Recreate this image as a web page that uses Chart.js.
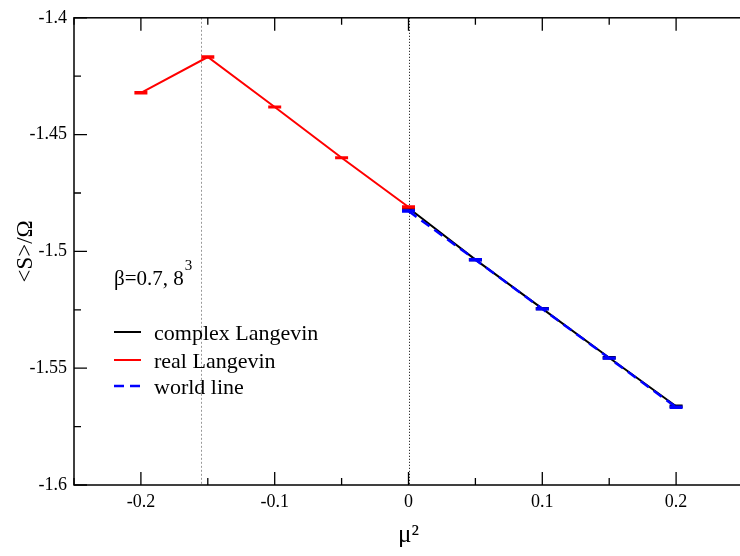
<!DOCTYPE html>
<html>
<head>
<meta charset="utf-8">
<script src="https://cdn.jsdelivr.net/npm/chart.js@4/dist/chart.umd.min.js"></script>
<style>
html,body{margin:0;padding:0;background:#fff;overflow:hidden;width:740px;height:556px;}
#wrap{position:absolute;left:0;top:0;width:760px;height:556px;}
</style>
</head>
<body>
<div id="wrap"><canvas id="c" width="760" height="556"></canvas></div>
<script>
// ---- data ----
const xReal    = [-0.2, -0.15, -0.1, -0.05, 0];
const yReal    = [-1.4321, -1.4168, -1.4382, -1.4599, -1.4810];
const errReal  = [0.0003, 0.0003, 0.0002, 0.0002, 0.0003];

const xComplex   = [0, 0.05, 0.1, 0.15, 0.2];
const yComplex   = [-1.4814, -1.5035, -1.5245, -1.5455, -1.5663];
const errComplex = [0.0003, 0.0003, 0.0003, 0.0003, 0.0003];

const xWorld   = [0, 0.05, 0.1, 0.15, 0.2];
const yWorld   = [-1.4827, -1.5036, -1.5246, -1.5457, -1.5667];
const errWorld = [0.0003, 0.0003, 0.0003, 0.0003, 0.0003];

const xTicks = [-0.2, -0.1, 0, 0.1, 0.2];
const xTickLabels = ['-0.2', '-0.1', '0', '0.1', '0.2'];
const xMinorTicks = [-0.25, -0.15, -0.05, 0.05, 0.15, 0.25];
const yTicks = [-1.4, -1.45, -1.5, -1.55, -1.6];
const yTickLabels = ['-1.4', '-1.45', '-1.5', '-1.55', '-1.6'];
const yMinorTicks = [-1.425, -1.475, -1.525, -1.575];
const vLines = [-0.155, 0];
const annotationText = 'β=0.7, 8';
const annotationSup = '3';

const SERIF = '"Liberation Serif", "Times New Roman", serif';

function pts(xs, ys, es) { return xs.map((x, i) => ({x: x, y: ys[i], e: es[i]})); }

const errorBars = {
  id: 'errorBars',
  afterDatasetDraw(chart, args) {
    const ds = chart.data.datasets[args.index];
    const xs = chart.scales.x, ys = chart.scales.y;
    const ctx = chart.ctx;
    ctx.save();
    ctx.strokeStyle = ds.borderColor;
    ctx.lineWidth = 2;
    ctx.setLineDash([]);
    ds.data.forEach(p => {
      const px = xs.getPixelForValue(p.x);
      const yt = ys.getPixelForValue(p.y + p.e);
      const yb = ys.getPixelForValue(p.y - p.e);
      ctx.beginPath();
      ctx.moveTo(px, yt); ctx.lineTo(px, yb);
      ctx.moveTo(px - 6.5, yt); ctx.lineTo(px + 6.5, yt);
      ctx.moveTo(px - 6.5, yb); ctx.lineTo(px + 6.5, yb);
      ctx.stroke();
    });
    ctx.restore();
  }
};

const frame = {
  id: 'frame',
  beforeDatasetsDraw(chart) {
    const ctx = chart.ctx, a = chart.chartArea;
    const xs = chart.scales.x;
    ctx.save();
    ctx.lineWidth = 1;
    ctx.strokeStyle = '#999999';
    ctx.setLineDash([2, 2]);
    let px = Math.round(xs.getPixelForValue(vLines[0])) + 0.5;
    ctx.beginPath(); ctx.moveTo(px, a.top); ctx.lineTo(px, a.bottom); ctx.stroke();
    ctx.strokeStyle = '#000';
    ctx.setLineDash([1, 2]);
    px = Math.round(xs.getPixelForValue(vLines[1])) + 0.5;
    ctx.beginPath(); ctx.moveTo(px, a.top); ctx.lineTo(px, a.bottom); ctx.stroke();
    ctx.restore();
  },
  afterDraw(chart) {
    const ctx = chart.ctx, a = chart.chartArea;
    const xs = chart.scales.x, ys = chart.scales.y;
    ctx.save();
    ctx.strokeStyle = '#000';
    ctx.lineWidth = 1.5;
    ctx.setLineDash([]);
    ctx.strokeRect(a.left, a.top, a.right - a.left, a.bottom - a.top);
    ctx.lineWidth = 1.3;
    ctx.beginPath();
    const tx = (v, len) => {
      const p = xs.getPixelForValue(v);
      ctx.moveTo(p, a.bottom); ctx.lineTo(p, a.bottom - len);
      ctx.moveTo(p, a.top); ctx.lineTo(p, a.top + len);
    };
    const ty = (v, len) => {
      const p = ys.getPixelForValue(v);
      ctx.moveTo(a.left, p); ctx.lineTo(a.left + len, p);
    };
    xTicks.forEach(v => tx(v, 13));
    xMinorTicks.forEach(v => tx(v, 7));
    yTicks.forEach(v => ty(v, 13));
    yMinorTicks.forEach(v => ty(v, 7));
    ctx.stroke();

    // annotation
    ctx.fillStyle = '#000';
    ctx.textBaseline = 'alphabetic';
    ctx.textAlign = 'left';
    ctx.font = '21px ' + SERIF;
    ctx.fillText(annotationText, 114, 285);
    const w = ctx.measureText(annotationText).width;
    ctx.font = '15px ' + SERIF;
    ctx.fillText(annotationSup, 114 + w + 1, 270);

    // legend
    const rows = [
      {ds: chart.data.datasets[1], y: 332},
      {ds: chart.data.datasets[0], y: 360},
      {ds: chart.data.datasets[2], y: 386}
    ];
    ctx.font = '22px ' + SERIF;
    ctx.textBaseline = 'middle';
    rows.forEach(r => {
      ctx.strokeStyle = r.ds.borderColor;
      ctx.lineWidth = r.ds.borderWidth;
      ctx.setLineDash(r.ds.borderDash || []);
      ctx.beginPath(); ctx.moveTo(114, r.y); ctx.lineTo(141, r.y); ctx.stroke();
      ctx.fillStyle = '#000';
      ctx.fillText(r.ds.label, 154, r.y + 2);
    });
    ctx.restore();
  }
};

new Chart(document.getElementById('c'), {
  type: 'scatter',
  data: {
    datasets: [
      {label: 'real Langevin', data: pts(xReal, yReal, errReal), showLine: true, order: 1,
       borderColor: '#ff0000', backgroundColor: '#ff0000', borderWidth: 2, pointRadius: 0, tension: 0},
      {label: 'complex Langevin', data: pts(xComplex, yComplex, errComplex), showLine: true, order: 2,
       borderColor: '#000000', backgroundColor: '#000000', borderWidth: 2, pointRadius: 0, tension: 0},
      {label: 'world line', data: pts(xWorld, yWorld, errWorld), showLine: true, order: 0,
       borderColor: '#0000ff', backgroundColor: '#0000ff', borderWidth: 2.5, borderDash: [10, 6], pointRadius: 0, tension: 0}
    ]
  },
  options: {
    responsive: false,
    animation: false,
    devicePixelRatio: 1,
    layout: {padding: {left: 0, top: 14.5, right: 17, bottom: 0}},
    plugins: {legend: {display: false}, tooltip: {enabled: false}},
    scales: {
      x: {
        type: 'linear', min: -0.25, max: 0.25,
        border: {display: false},
        grid: {display: false, drawTicks: false},
        afterBuildTicks: s => { s.ticks = xTicks.map(v => ({value: v})); },
        afterFit: s => { s.height = 71; },
        ticks: {
          color: '#000', padding: 6, maxRotation: 0, autoSkip: false,
          font: {family: SERIF, size: 18},
          callback: (v) => { const i = xTicks.findIndex(t => Math.abs(t - v) < 1e-9); return i >= 0 ? xTickLabels[i] : ''; }
        },
        title: {display: true, text: 'μ²', color: '#000', font: {family: SERIF, size: 25}, padding: {bottom: 6, top: 0}}
      },
      y: {
        type: 'linear', min: -1.6, max: -1.4,
        border: {display: false},
        grid: {display: false, drawTicks: false},
        afterBuildTicks: s => { s.ticks = yTicks.map(v => ({value: v})); },
        afterFit: s => { s.width = 74; },
        ticks: {
          color: '#000', padding: 7, autoSkip: false,
          font: {family: SERIF, size: 18},
          callback: (v) => { const i = yTicks.findIndex(t => Math.abs(t - v) < 1e-9); return i >= 0 ? yTickLabels[i] : ''; }
        },
        title: {display: true, text: '<S>/Ω', color: '#000', font: {family: SERIF, size: 23}, padding: {top: 12, bottom: 0}}
      }
    }
  },
  plugins: [frame, errorBars]
});
</script>
</body>
</html>
